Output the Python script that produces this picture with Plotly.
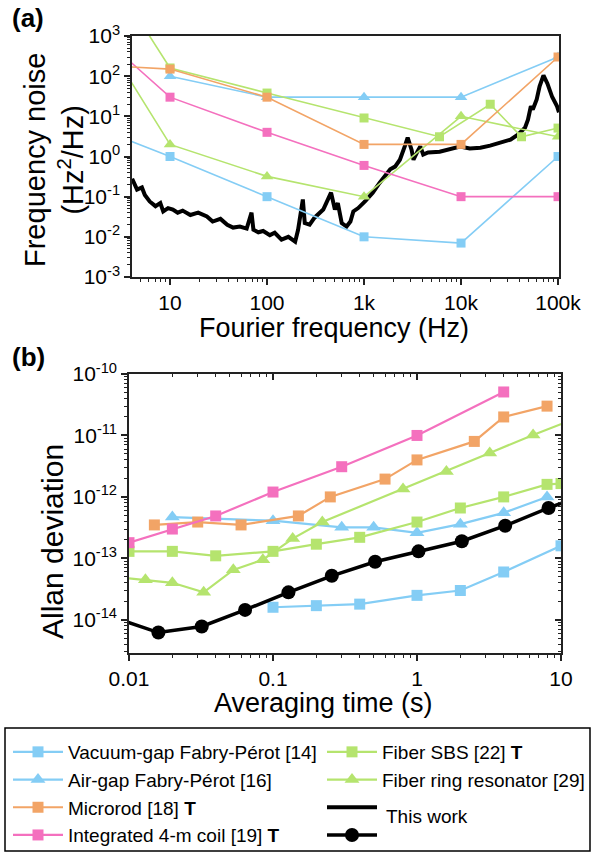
import plotly.graph_objects as go

# ---------------- Panel (a): frequency noise ----------------
a_vac_f = [3, 10, 100, 1000, 10000, 100000]
a_vac_n = [3.1, 1.0, 0.1, 0.01, 0.007, 1.0]

a_air_f = [10, 100, 1000, 10000, 100000]
a_air_n = [100, 30, 30, 30, 300]

a_micro_f = [3, 10, 100, 1000, 10000, 100000]
a_micro_n = [175, 150, 30, 2.0, 2.0, 300]

a_int_f = [3, 10, 100, 1000, 10000, 100000]
a_int_n = [400, 30, 4.0, 0.6, 0.1, 0.1]

a_sbs_f = [3, 10, 100, 1000, 6000, 20000, 42000, 100000]
a_sbs_n = [15000, 160, 38, 9.1, 3.1, 20, 3.1, 5.1]

a_ring_f = [3, 10, 100, 1000, 10000, 100000]
a_ring_n = [214, 2.0, 0.32, 0.1, 10, 3.1]

a_work_f = [4.07, 4.37, 4.57, 5.13, 5.50, 6.17, 7.08, 7.94, 8.51, 9.55,
            10.7, 12.0, 13.5, 16.2, 19.5, 24.0, 27.5, 33.1, 38.9, 44.7,
            52.5, 61.7, 69.2, 72.4, 81.3, 91.2, 107, 120, 141, 166,
            195, 209, 234, 245, 275, 309, 380, 457, 501, 537,
            589, 661, 724, 776, 871, 1023, 1230, 1445, 1660, 1862,
            2089, 2344, 2630, 2818, 3090, 3236, 3548, 3802, 4074, 4571,
            6026, 7762, 9772, 12300, 15850, 19950, 25120, 32360, 38900, 45710,
            48980, 52480, 54950, 60260, 64570, 70790, 77620, 87100, 97720, 102300]
a_work_n = [0.28, 0.20, 0.15, 0.17, 0.11, 0.076, 0.058, 0.069, 0.043, 0.052,
            0.048, 0.040, 0.045, 0.035, 0.040, 0.032, 0.024, 0.028, 0.020, 0.017,
            0.018, 0.016, 0.040, 0.015, 0.013, 0.014, 0.011, 0.0126, 0.0085, 0.010,
            0.0076, 0.015, 0.085, 0.022, 0.020, 0.030, 0.048, 0.126, 0.048, 0.069,
            0.022, 0.018, 0.024, 0.043, 0.052, 0.076, 0.126, 0.22, 0.35, 0.48,
            0.56, 0.83, 1.78, 2.95, 1.48, 0.83, 1.32, 1.78, 1.12, 1.26,
            1.32, 1.58, 1.78, 1.58, 1.66, 1.86, 2.24, 2.63, 3.55, 5.25,
            8.3, 17.8, 14.8, 26.3, 56.2, 105, 66, 30.2, 17.8, 12.6]

# ---------------- Panel (b): Allan deviation ----------------
b_vac_t = [0.1, 0.2, 0.4, 1, 2, 4, 10]
b_vac_d = [1.6e-14, 1.7e-14, 1.8e-14, 2.5e-14, 3.0e-14, 6.0e-14, 1.6e-13]

b_air_t = [0.02, 0.1, 0.3, 0.5, 1, 2, 4, 8]
b_air_d = [4.7e-13, 4.1e-13, 3.2e-13, 3.2e-13, 2.6e-13, 3.6e-13, 5.5e-13, 1.0e-12]

b_micro_t = [0.015, 0.03, 0.06, 0.15, 0.25, 0.6, 1, 2.5, 4, 8]
b_micro_d = [3.5e-13, 3.9e-13, 3.5e-13, 4.9e-13, 1.0e-12, 1.95e-12, 4.0e-12, 8.0e-12, 2.0e-11, 3.0e-11]

b_int_t = [0.01, 0.02, 0.04, 0.1, 0.3, 1, 4]
b_int_d = [1.8e-13, 3.0e-13, 4.9e-13, 1.2e-12, 3.1e-12, 1.0e-11, 5.1e-11]

b_sbs_t = [0.01, 0.02, 0.04, 0.1, 0.2, 0.4, 1, 2, 4, 8, 10]
b_sbs_d = [1.3e-13, 1.3e-13, 1.1e-13, 1.3e-13, 1.7e-13, 2.2e-13, 3.9e-13, 6.6e-13, 1.0e-12, 1.6e-12, 1.65e-12]

b_ring_t = [0.008, 0.013, 0.02, 0.033, 0.053, 0.085, 0.137, 0.22, 0.8, 1.6, 3.2, 6.4, 13.5]
b_ring_d = [5.0e-14, 4.5e-14, 4.0e-14, 2.8e-14, 6.5e-14, 9.5e-14, 2.1e-13, 3.9e-13, 1.35e-12, 2.6e-12, 5.2e-12, 1.02e-11, 2.0e-11]

b_work_t = [0.008, 0.016, 0.032, 0.064, 0.128, 0.256, 0.512, 1.024, 2.048, 4.096, 8.192, 16.384]
b_work_d = [1.07e-14, 6.2e-15, 7.8e-15, 1.45e-14, 2.8e-14, 5.2e-14, 8.8e-14, 1.3e-13, 1.9e-13, 3.4e-13, 6.6e-13, 1.2e-12]

# ---------------- tick labels ----------------
a_x_tickvals = [10, 100, 1000, 10000, 100000]
a_x_ticktext = ["10", "100", "1k", "10k", "100k"]
a_y_tickvals = [1e-3, 1e-2, 1e-1, 1e0, 1e1, 1e2, 1e3]
a_y_ticktext = ["10<sup>-3</sup>", "10<sup>-2</sup>", "10<sup>-1</sup>", "10<sup>0</sup>",
                "10<sup>1</sup>", "10<sup>2</sup>", "10<sup>3</sup>"]
b_x_tickvals = [0.01, 0.1, 1, 10]
b_x_ticktext = ["0.01", "0.1", "1", "10"]
b_y_tickvals = [1e-14, 1e-13, 1e-12, 1e-11, 1e-10]
b_y_ticktext = ["10<sup>-14</sup>", "10<sup>-13</sup>", "10<sup>-12</sup>",
                "10<sup>-11</sup>", "10<sup>-10</sup>"]

BLUE = "#84CDF5"
ORANGE = "#F2A466"
PINK = "#F470BE"
GREEN = "#B5E46E"
FONT = "Arial, Liberation Sans, sans-serif"

fig = go.Figure()

# panel (a) traces
fig.add_trace(go.Scatter(x=a_work_f, y=a_work_n, mode="lines", line=dict(color="black", width=4),
                         xaxis="x", yaxis="y", name=" ", legend="legend2", legendrank=3))
for f, n, col, sym, sz in [
    (a_vac_f, a_vac_n, BLUE, "square", 9),
    (a_air_f, a_air_n, BLUE, "triangle-up", 11),
    (a_ring_f, a_ring_n, GREEN, "triangle-up", 11),
    (a_sbs_f, a_sbs_n, GREEN, "square", 9),
    (a_int_f, a_int_n, PINK, "square", 9),
    (a_micro_f, a_micro_n, ORANGE, "square", 9),
]:
    fig.add_trace(go.Scatter(x=f, y=n, mode="lines+markers", xaxis="x", yaxis="y",
                             line=dict(color=col, width=1.6),
                             marker=dict(color=col, symbol=sym, size=sz),
                             showlegend=False))

# panel (b) traces (carry the legend entries)
for t, d, col, sym, sz, name, leg, rank in [
    (b_vac_t, b_vac_d, BLUE, "square", 11, "Vacuum-gap Fabry-Pérot [14]", "legend", 1),
    (b_air_t, b_air_d, BLUE, "triangle-up", 13, "Air-gap Fabry-Pérot [16]", "legend", 2),
    (b_ring_t, b_ring_d, GREEN, "triangle-up", 13, "Fiber ring resonator [29]", "legend2", 2),
    (b_sbs_t, b_sbs_d, GREEN, "square", 11, "Fiber SBS [22] <b>T</b>", "legend2", 1),
    (b_micro_t, b_micro_d, ORANGE, "square", 11, "Microrod [18] <b>T</b>", "legend", 3),
    (b_int_t, b_int_d, PINK, "square", 11, "Integrated 4-m coil [19] <b>T</b>", "legend", 4),
]:
    fig.add_trace(go.Scatter(x=t, y=d, mode="lines+markers", xaxis="x2", yaxis="y2",
                             line=dict(color=col, width=2.2),
                             marker=dict(color=col, symbol=sym, size=sz),
                             name=name, legend=leg, legendrank=rank))

fig.add_trace(go.Scatter(x=b_work_t, y=b_work_d, mode="lines+markers", xaxis="x2", yaxis="y2",
                         line=dict(color="black", width=3.5),
                         marker=dict(color="black", symbol="circle", size=14),
                         name=" ", legend="legend2", legendrank=4))

# empty trace to host the inside-tick mirror axes of panel (b)
fig.add_trace(go.Scatter(x=[], y=[], xaxis="x3", yaxis="y3", showlegend=False))

L, R, T, B = 128, 33, 36, 199
W, H = 594, 852
PW = W - L - R
PH = H - T - B


def px_x(p):
    return (p - L) / PW


def px_y(p):
    return (H - B - p) / PH


def minor_vals(lo, hi):
    return [m * 10 ** e for e in range(lo, hi) for m in range(2, 10)]


tickfont = dict(family=FONT, size=21, color="black")
common = dict(type="log", showgrid=False, zeroline=False, showline=True, linecolor="#222",
              linewidth=1.5, ticks="outside", ticklen=6, tickwidth=1.5, tickcolor="#222",
              tickfont=tickfont, tickmode="array", automargin=False)

legend_common = dict(xref="container", yref="container", xanchor="left", yanchor="top",
                     orientation="v", font=dict(family=FONT, size=19, color="black"),
                     borderwidth=0, bgcolor="rgba(0,0,0,0)", itemwidth=50, tracegroupgap=0)

fig.update_layout(
    width=W, height=H, margin=dict(l=L, r=R, t=T, b=B, autoexpand=False),
    paper_bgcolor="white", plot_bgcolor="white",
    font=dict(family=FONT, color="black"),
    xaxis=dict(common, domain=[px_x(132), px_x(559)], anchor="y", range=[0.608, 5.01],
               tickvals=a_x_tickvals, ticktext=a_x_ticktext, mirror=True,
               minor=dict(tickvals=minor_vals(0, 5), ticks="outside", ticklen=3,
                          tickwidth=1.2, tickcolor="#222")),
    yaxis=dict(common, domain=[px_y(277), px_y(36)], anchor="x", range=[-3, 3],
               tickvals=a_y_tickvals, ticktext=a_y_ticktext, mirror=True,
               minor=dict(tickvals=minor_vals(-3, 3), ticks="outside", ticklen=3,
                          tickwidth=1.2, tickcolor="#222")),
    xaxis2=dict(common, domain=[px_x(129), px_x(561)], anchor="y2", range=[-2, 1],
                tickvals=b_x_tickvals, ticktext=b_x_ticktext, mirror=True,
                minor=dict(tickvals=minor_vals(-2, 1), ticks="outside", ticklen=3,
                           tickwidth=1.2, tickcolor="#222")),
    yaxis2=dict(common, domain=[px_y(653), px_y(374)], anchor="x2", range=[-14.54, -10],
                tickvals=b_y_tickvals, ticktext=b_y_ticktext, mirror=True,
                minor=dict(tickvals=minor_vals(-15, -10), ticks="outside", ticklen=3,
                           tickwidth=1.2, tickcolor="#222")),
    xaxis3=dict(type="log", overlaying="x2", side="top", anchor="y2", range=[-2, 1],
                showgrid=False, zeroline=False, showline=False, showticklabels=False,
                tickmode="array", tickvals=b_x_tickvals, ticks="inside", ticklen=6,
                tickwidth=1.5, tickcolor="#222", automargin=False,
                minor=dict(tickvals=minor_vals(-2, 1), ticks="inside", ticklen=3,
                           tickwidth=1.2, tickcolor="#222")),
    yaxis3=dict(type="log", overlaying="y2", side="right", anchor="x2", range=[-14.54, -10],
                showgrid=False, zeroline=False, showline=False, showticklabels=False,
                tickmode="array", tickvals=b_y_tickvals, ticks="inside", ticklen=6,
                tickwidth=1.5, tickcolor="#222", automargin=False,
                minor=dict(tickvals=minor_vals(-15, -10), ticks="inside", ticklen=3,
                           tickwidth=1.2, tickcolor="#222")),
    legend=dict(legend_common, x=8 / W, y=(H - 733) / H),
    legend2=dict(legend_common, x=322 / W, y=(H - 733) / H),
    shapes=[dict(type="rect", xref="paper", yref="paper", x0=px_x(5), x1=px_x(590),
                 y0=px_y(851), y1=px_y(728), line=dict(color="black", width=1.5),
                 fillcolor="rgba(0,0,0,0)")],
)

ann = [
    dict(text="<b>(a)</b>", x=px_x(10), y=px_y(18), xanchor="left", yanchor="middle", size=26),
    dict(text="<b>(b)</b>", x=px_x(10), y=px_y(357), xanchor="left", yanchor="middle", size=26),
    dict(text="Frequency noise<br>(Hz<sup>2</sup>/Hz)", x=px_x(54), y=px_y(160),
         xanchor="center", yanchor="middle", size=29, angle=-90),
    dict(text="Fourier frequency (Hz)", x=px_x(334), y=px_y(328),
         xanchor="center", yanchor="middle", size=27),
    dict(text="Allan deviation", x=px_x(52), y=px_y(542),
         xanchor="center", yanchor="middle", size=30, angle=-90),
    dict(text="Averaging time (s)", x=px_x(323), y=px_y(703),
         xanchor="center", yanchor="middle", size=27),
    dict(text="This work", x=px_x(384), y=px_y(816),
         xanchor="left", yanchor="middle", size=19),
]
for a in ann:
    fig.add_annotation(text=a["text"], x=a["x"], y=a["y"], xref="paper", yref="paper",
                       xanchor=a["xanchor"], yanchor=a["yanchor"], showarrow=False,
                       textangle=a.get("angle", 0),
                       font=dict(family=FONT, size=a["size"], color="black"))

# the page's default 8px body margin would shift the figure; remove it
fig.write_html("out.html", config={"displayModeBar": False},
               post_script="document.body.style.margin='0px';")
